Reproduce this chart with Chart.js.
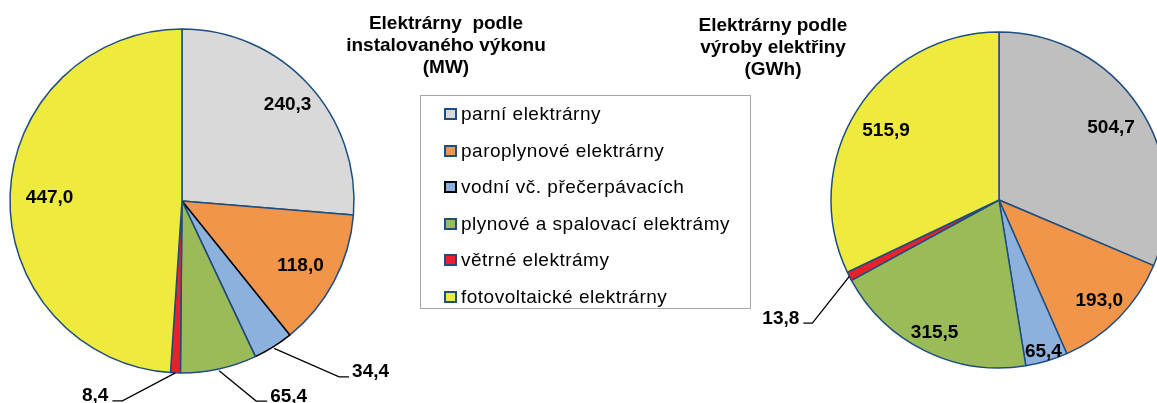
<!DOCTYPE html>
<html>
<head>
<meta charset="utf-8">
<script src="https://cdn.jsdelivr.net/npm/chart.js@4.4.1/dist/chart.umd.min.js"></script>
<style>
  html, body { margin:0; padding:0; width:1157px; height:403px; overflow:hidden; background:#fff; }
  body { position:relative; font-family:"Liberation Sans", Arial, sans-serif; color:#000; }
  canvas { position:absolute; top:0; }
  .title { position:absolute; width:320px; text-align:center; font-weight:bold; font-size:19px; line-height:22px; white-space:pre; }
  #legend { position:absolute; left:420px; top:95px; width:331px; height:214px; border:1px solid #A6A6A6; box-sizing:border-box; }
  .item { position:absolute; left:23px; height:20px; display:flex; align-items:center; font-size:19px; letter-spacing:0.5px; white-space:nowrap; }
  .mark { width:9px; height:8px; border:2px solid #1E4D80; margin-right:4px; flex:none; }
</style>
</head>
<body>
<canvas id="cLeft" width="400" height="403" style="left:0px"></canvas>
<canvas id="cRight" width="440" height="403" style="left:740px"></canvas>
<div class="title" id="tLeft" style="left:286px; top:12px;"></div>
<div class="title" id="tRight" style="left:613px; top:14px;"></div>
<div id="legend"></div>
<script>
// ---- data ----
const categories = [
  "parní elektrárny",
  "paroplynové elektrárny",
  "vodní vč. přečerpávacích",
  "plynové a spalovací elektrámy",
  "větrné elektrámy",
  "fotovoltaické elektrárny"
];
const installedMW = [240.3, 118.0, 34.4, 65.4, 8.4, 447.0];
const productionGWh = [504.7, 193.0, 65.4, 315.5, 13.8, 515.9];
const titleLeft = ["Elektrárny  podle", "instalovaného výkonu", "(MW)"];
const titleRight = ["Elektrárny podle", "výroby elektřiny", "(GWh)"];

// ---- styles ----
const leftColors  = ['#D9D9D9', '#F0954A', '#8DB1DD', '#9BBB59', '#E8212A', '#EEEA3E'];
const rightColors = ['#BFBFBF', '#F0954A', '#8DB1DD', '#9BBB59', '#E8212A', '#EEEA3E'];
const edge = '#1E4D80';
const leftBorders  = [edge, edge, '#000000', edge, edge, edge];
const rightBorders = [edge, edge, edge, edge, edge, edge];
const legendBorders = [edge, edge, '#000000', edge, edge, edge];
const FONT = '"Liberation Sans", Arial, sans-serif';

document.getElementById('tLeft').textContent = titleLeft.join('\n');
document.getElementById('tRight').textContent = titleRight.join('\n');

const legend = document.getElementById('legend');
categories.forEach((c, i) => {
  const it = document.createElement('div');
  it.className = 'item';
  it.style.top = (8 + i * 36.5) + 'px';
  const m = document.createElement('span');
  m.className = 'mark';
  m.style.background = leftColors[i];
  m.style.borderColor = legendBorders[i];
  const t = document.createElement('span');
  t.textContent = c;
  it.appendChild(m); it.appendChild(t);
  legend.appendChild(it);
});

const fmt = v => v.toFixed(1).replace('.', ',');

const pieLabels = {
  id: 'pieLabels',
  afterDatasetsDraw(chart, args, opts) {
    const ctx = chart.ctx;
    const meta = chart.getDatasetMeta(0);
    const values = chart.data.datasets[0].data;
    ctx.save();
    ctx.font = 'bold 19px ' + FONT;
    ctx.fillStyle = '#000';
    ctx.strokeStyle = '#000';
    ctx.lineWidth = 1.3;
    meta.data.forEach((arc, i) => {
      const p = arc.getProps(['x', 'y', 'startAngle', 'endAngle', 'outerRadius'], true);
      const mid = (p.startAngle + p.endAngle) / 2;
      const txt = fmt(values[i]);
      const f = opts.inside[i];
      if (f !== undefined) {
        ctx.textAlign = 'center';
        ctx.textBaseline = 'alphabetic';
        ctx.fillText(txt, p.x + Math.cos(mid) * p.outerRadius * f,
                          p.y + Math.sin(mid) * p.outerRadius * f + 6.8);
      }
      const o = opts.outside[i];
      if (o) {
        const sx = p.x + Math.cos(mid) * p.outerRadius * o.r;
        const sy = p.y + Math.sin(mid) * p.outerRadius * o.r;
        const ex = sx + o.dx, ey = sy + o.dy;
        const hx = ex + o.run;
        ctx.beginPath();
        ctx.moveTo(sx, sy); ctx.lineTo(ex, ey); ctx.lineTo(hx, ey);
        ctx.stroke();
        ctx.textBaseline = 'alphabetic';
        if (o.run > 0) { ctx.textAlign = 'left'; ctx.fillText(txt, hx + 3, ey + 0.5); }
        else { ctx.textAlign = 'right'; ctx.fillText(txt, hx - 4, ey + 0.5); }
      }
    });
    ctx.restore();
  }
};

function makePie(id, values, colors, borders, padding, labelOpts) {
  return new Chart(document.getElementById(id), {
    type: 'pie',
    data: {
      labels: categories,
      datasets: [{
        data: values,
        backgroundColor: colors,
        borderColor: borders,
        borderWidth: 1.5
      }]
    },
    options: {
      responsive: false,
      animation: false,
      devicePixelRatio: 1,
      layout: { padding: padding },
      plugins: {
        legend: { display: false },
        title: { display: false },
        tooltip: { enabled: false },
        pieLabels: labelOpts
      }
    },
    plugins: [pieLabels]
  });
}

makePie('cLeft', installedMW, leftColors, leftBorders,
  { left: 9.25, top: 28.25, right: 45.25, bottom: 29.25 },
  {
    inside: { 0: 0.835, 1: 0.78, 5: 0.77 },
    outside: {
      2: { r: 1.01, dx: 65, dy: 28.5, run: 10 },
      3: { r: 1.01, dx: 37, dy: 30.4, run: 11 },
      4: { r: 1.0, dx: -53, dy: 28, run: -10 }
    }
  });

makePie('cRight', productionGWh, rightColors, rightBorders,
  { left: 90.25, top: 31.25, right: 12.25, bottom: 34.25 },
  {
    inside: { 0: 0.80, 1: 0.838, 2: 0.93, 3: 0.87, 5: 0.795 },
    outside: {
      4: { r: 1.0, dx: -37, dy: 46.7, run: -9 }
    }
  });
</script>
</body>
</html>
